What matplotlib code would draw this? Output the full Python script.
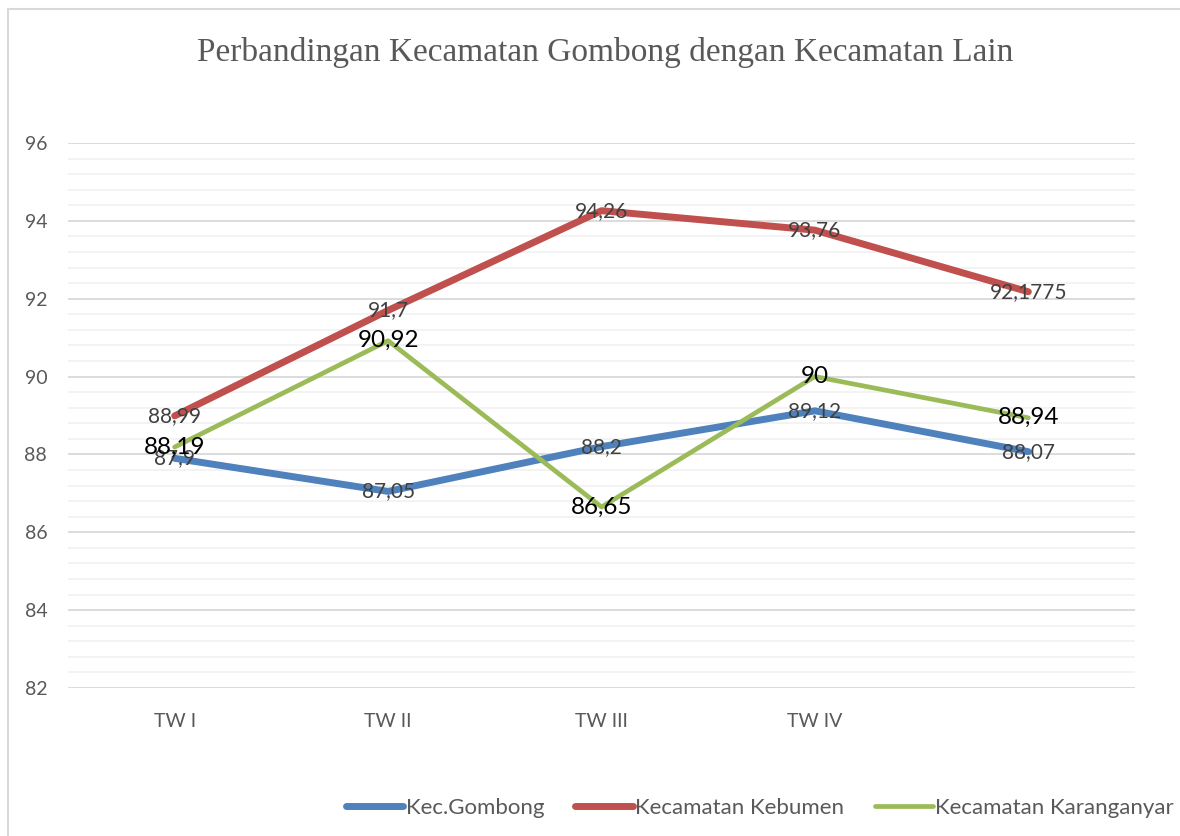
import matplotlib.pyplot as plt
from matplotlib.patches import Rectangle
from matplotlib.ticker import MultipleLocator

categories = ['TW I', 'TW II', 'TW III', 'TW IV', '']
gombong = [87.9, 87.05, 88.2, 89.12, 88.07]
kebumen = [88.99, 91.7, 94.26, 93.76, 92.1775]
karanganyar = [88.19, 90.92, 86.65, 90, 88.94]

series = [
    ('Kec.Gombong', gombong, '#4f81bd', 5.0, '#404040', 15),
    ('Kecamatan Kebumen', kebumen, '#c0504d', 5.0, '#404040', 15),
    ('Kecamatan Karanganyar', karanganyar, '#9bbb59', 3.4, 'black', 17.5),
]

plt.rcParams['font.family'] = ['Lato', 'DejaVu Sans']

fig = plt.figure(figsize=(11.8, 8.36), dpi=100)
ax = fig.add_axes([0.0576, 0.177, 0.9043, 0.652])

x = list(range(len(categories)))
for name, vals, color, lw, tcolor, tsize in series:
    ax.plot(x, vals, color=color, lw=lw, solid_capstyle='round', label=name, zorder=3)
for name, vals, color, lw, tcolor, tsize in series:
    for xi, v in zip(x, vals):
        ax.text(xi, v, f'{v:g}'.replace('.', ','), ha='center', va='center',
                color=tcolor, fontsize=tsize, zorder=4)

ax.set_xlim(-0.5, len(categories) - 0.5)
ax.set_ylim(82, 96)
ax.yaxis.set_major_locator(MultipleLocator(2))
ax.yaxis.set_minor_locator(MultipleLocator(0.4))
ax.set_xticks(x)
ax.set_xticklabels(categories)
ax.grid(axis='y', which='major', color='#d9d9d9', lw=1.3, zorder=1)
ax.grid(axis='y', which='minor', color='#f2f2f2', lw=1.3, zorder=0)
for s in ax.spines.values():
    s.set_visible(False)
ax.tick_params(axis='both', which='both', length=0, labelsize=14, colors='#595959')
ax.tick_params(axis='y', pad=15)
ax.tick_params(axis='x', pad=18)

fig.text(0.513, 0.937, 'Perbandingan Kecamatan Gombong dengan Kecamatan Lain',
         ha='center', va='center', family='Liberation Serif', fontsize=24, color='#595959')

fig.legend(loc='center', bbox_to_anchor=(0.644, 0.034), ncol=3, frameon=False,
           fontsize=16, handlelength=2.6, handletextpad=0.1, columnspacing=1.4,
           labelcolor='#595959')

# chart border (cropped on right and bottom)
fig.patches.append(Rectangle((8 / 1180, -0.1), 1.2, 1.1 - 9 / 836,
                             transform=fig.transFigure, fill=False,
                             edgecolor='#d9d9d9', lw=1.5))

fig.savefig('out.png', dpi=100)
